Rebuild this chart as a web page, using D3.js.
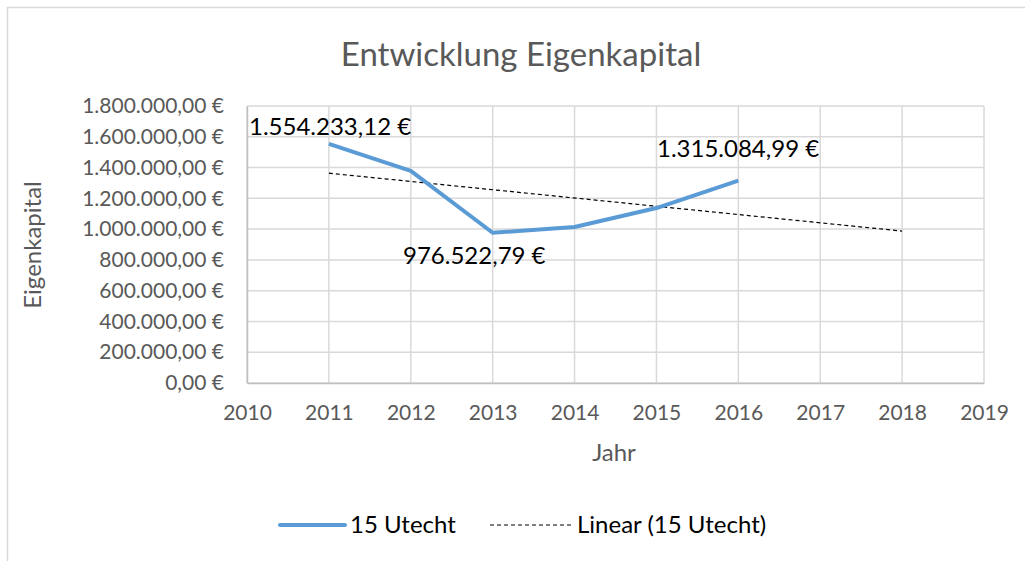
<!DOCTYPE html>
<html>
<head>
<meta charset="utf-8">
<script src="https://cdn.jsdelivr.net/npm/d3@7"></script>
<style>
    body { margin: 0; background: #fff; }
    svg { font-family: Lato, "Open Sans", sans-serif; }
</style>
</head>
<body>
<svg id="chart" width="1025" height="561"></svg>
<script>
// data
var years = [2011, 2012, 2013, 2014, 2015, 2016];
var equity = [1554233.12, 1378000, 976522.79, 1014000, 1137000, 1315084.99];
var labelled = [0, 2, 5];
var yTicks = [0, 200000, 400000, 600000, 800000, 1000000, 1200000, 1400000, 1600000, 1800000];
var xTicks = [2010, 2011, 2012, 2013, 2014, 2015, 2016, 2017, 2018, 2019];

var svg = d3.select('#chart');
var plot = {left: 247, right: 984, top: 106, bottom: 383};

var x = d3.scaleLinear().domain([2010, 2019]).range([plot.left, plot.right]);
var y = d3.scaleLinear().domain([0, 1800000]).range([plot.bottom, plot.top]);

var fmt = function (v) {
    var s = d3.format(',.2f')(v);
    return s.replace(/,/g, '#').replace('.', ',').replace(/#/g, '.') + ' €';
};

// outer chart border (cropped at right/bottom)
svg.append('rect')
    .attr('x', 7.5).attr('y', 7.5)
    .attr('width', 1030).attr('height', 570)
    .attr('fill', 'none').attr('stroke', '#d9d9d9').attr('stroke-width', 1.5);

svg.append('text')
    .attr('x', 521).attr('y', 66)
    .attr('text-anchor', 'middle')
    .style('font-size', '33px').style('fill', '#595959')
    .text('Entwicklung Eigenkapital');

// grid
svg.append('g').selectAll('line').data(yTicks).enter().append('line')
    .attr('x1', plot.left).attr('x2', plot.right)
    .attr('y1', function (d) { return y(d); }).attr('y2', function (d) { return y(d); })
    .style('stroke', '#d9d9d9').style('stroke-width', 1.5);
svg.append('g').selectAll('line').data(xTicks).enter().append('line')
    .attr('x1', function (d) { return x(d); }).attr('x2', function (d) { return x(d); })
    .attr('y1', plot.top).attr('y2', plot.bottom)
    .style('stroke', '#d9d9d9').style('stroke-width', 1.5);

// axes
var yAxis = svg.append('g')
    .attr('transform', 'translate(' + plot.left + ',0)')
    .call(d3.axisLeft(y).tickValues(yTicks).tickFormat(fmt).tickSize(0).tickPadding(23));
var xAxis = svg.append('g')
    .attr('transform', 'translate(0,' + plot.bottom + ')')
    .call(d3.axisBottom(x).tickValues(xTicks).tickFormat(d3.format('d')).tickSize(0).tickPadding(22));
[yAxis, xAxis].forEach(function (a) {
    a.select('.domain').style('stroke', '#bfbfbf').style('stroke-width', 1.5);
    a.selectAll('text').style('font-size', '21px').style('fill', '#595959')
        .style('font-family', 'Lato, "Open Sans", sans-serif');
});

svg.append('text')
    .attr('transform', 'translate(33,245) rotate(-90)')
    .attr('text-anchor', 'middle').attr('dy', '0.35em')
    .style('font-size', '24px').style('fill', '#595959')
    .text('Eigenkapital');
svg.append('text')
    .attr('x', 614).attr('y', 461)
    .attr('text-anchor', 'middle')
    .style('font-size', '24px').style('fill', '#595959')
    .text('Jahr');

// linear trend (least squares), forecast 2 periods forward
var mx = d3.mean(years), my = d3.mean(equity);
var slope = d3.sum(years, function (v, i) { return (v - mx) * (equity[i] - my); }) /
    d3.sum(years, function (v) { return (v - mx) * (v - mx); });
var trendX = [years[0], years[years.length - 1] + 2];
svg.append('line')
    .attr('x1', x(trendX[0])).attr('y1', y(my + slope * (trendX[0] - mx)))
    .attr('x2', x(trendX[1])).attr('y2', y(my + slope * (trendX[1] - mx)))
    .style('stroke', '#000').style('stroke-width', 1.2).style('stroke-dasharray', '4,3');

var line = d3.line()
    .x(function (d, i) { return x(years[i]); })
    .y(function (d) { return y(d); });
svg.append('path').datum(equity)
    .attr('d', line)
    .style('fill', 'none').style('stroke', '#5b9bd5').style('stroke-width', 4)
    .style('stroke-linejoin', 'round');

// data labels
var labelPos = {0: [249, 135], 2: [403, 264], 5: [657, 157]};
svg.append('g').selectAll('text').data(labelled).enter().append('text')
    .attr('x', function (i) { return labelPos[i][0]; })
    .attr('y', function (i) { return labelPos[i][1]; })
    .style('font-size', '24px').style('fill', '#000')
    .text(function (i) { return fmt(equity[i]); });

// legend
var lg = svg.append('g');
lg.append('line').attr('x1', 280).attr('x2', 345).attr('y1', 525).attr('y2', 525)
    .style('stroke', '#5b9bd5').style('stroke-width', 4).style('stroke-linecap', 'round');
lg.append('text').attr('x', 350).attr('y', 533)
    .style('font-size', '24px').style('fill', '#000').text('15 Utecht');
lg.append('line').attr('x1', 490).attr('x2', 571).attr('y1', 525).attr('y2', 525)
    .style('stroke', '#000').style('stroke-width', 1.2).style('stroke-dasharray', '4,3');
lg.append('text').attr('x', 577).attr('y', 533)
    .style('font-size', '24px').style('fill', '#000').text('Linear (15 Utecht)');
</script>
</body>
</html>
